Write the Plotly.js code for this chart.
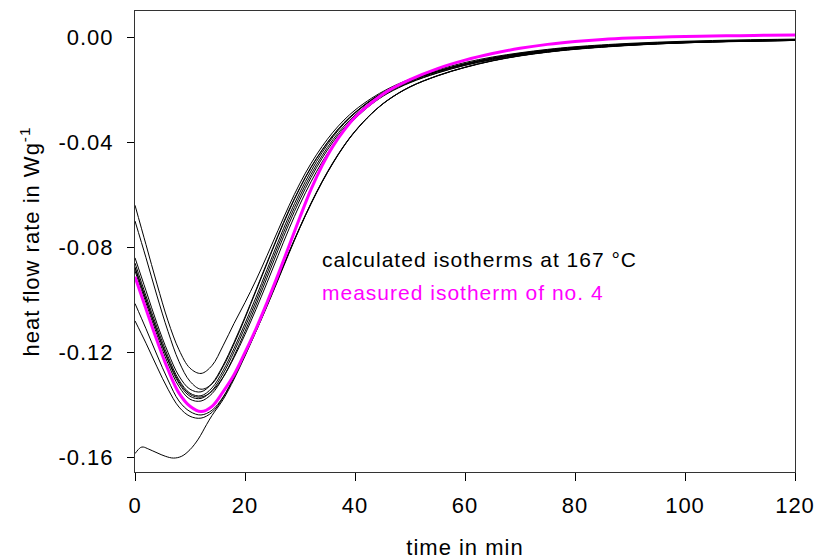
<!DOCTYPE html>
<html>
<head>
<meta charset="utf-8">
<script src="https://cdn.plot.ly/plotly-3.0.1.min.js"></script>
<style>
html,body{margin:0;padding:0;background:#fff;}
#chart text{letter-spacing:1px;}
</style>
</head>
<body>
<div id="chart" style="width:817px;height:560px;"></div>
<script>
// time grid (min)
const timeMin = [0,2,4,6,8,10,12,14,16,18,20,22,24,26,28,30,32,34,36,38,40,43,46,50,55,60,65,70,75,80,90,100,110,120];
const timeOdd = [0,1,1.5,2.5,4,5.5,7,8.5,10,11.5,13,14,16,18,20,22,24,26,28,30,32,34,36,38,40,43,46,50,55,60,65,70,75,80,90,100,110,120];
const timeMeas = [0,2,4,6,8,10,12,14,16,18,20,22,24,26,28,30,32,34,36,38,40,43,46,50,55,60,65,70,75,80,85,90,95,100,105,110,115,120];

// calculated isotherms at 167 °C (W/g)
const calc1 = [-0.0640,-0.0790,-0.0940,-0.1080,-0.1190,-0.1260,-0.1280,-0.1250,-0.1175,-0.1090,-0.1010,-0.0925,-0.0832,-0.0736,-0.0642,-0.0556,-0.0481,-0.0417,-0.0362,-0.0316,-0.0278,-0.0233,-0.0197,-0.0160,-0.0125,-0.0097,-0.0076,-0.0060,-0.0047,-0.0037,-0.0024,-0.0016,-0.0011,-0.0008];
const calc2 = [-0.0700,-0.0840,-0.0985,-0.1120,-0.1235,-0.1310,-0.1340,-0.1320,-0.1255,-0.1168,-0.1070,-0.0966,-0.0862,-0.0759,-0.0662,-0.0574,-0.0497,-0.0431,-0.0374,-0.0326,-0.0287,-0.0238,-0.0201,-0.0164,-0.0129,-0.0101,-0.0079,-0.0062,-0.0049,-0.0039,-0.0026,-0.0018,-0.0013,-0.0010];
const calc3 = [-0.0840,-0.0965,-0.1090,-0.1200,-0.1290,-0.1340,-0.1350,-0.1318,-0.1250,-0.1162,-0.1065,-0.0962,-0.0858,-0.0755,-0.0658,-0.0572,-0.0495,-0.0430,-0.0374,-0.0327,-0.0288,-0.0240,-0.0203,-0.0166,-0.0131,-0.0103,-0.0081,-0.0064,-0.0051,-0.0041,-0.0028,-0.0020,-0.0015,-0.0012];
const calc4 = [-0.0860,-0.0985,-0.1105,-0.1215,-0.1305,-0.1355,-0.1365,-0.1335,-0.1270,-0.1185,-0.1090,-0.0990,-0.0885,-0.0780,-0.0680,-0.0590,-0.0510,-0.0440,-0.0380,-0.0330,-0.0290,-0.0240,-0.0202,-0.0165,-0.0130,-0.0102,-0.0080,-0.0063,-0.0050,-0.0040,-0.0027,-0.0019,-0.0014,-0.0011];
const calc5 = [-0.0875,-0.0998,-0.1120,-0.1230,-0.1318,-0.1367,-0.1375,-0.1345,-0.1282,-0.1198,-0.1104,-0.1005,-0.0900,-0.0795,-0.0695,-0.0604,-0.0523,-0.0452,-0.0390,-0.0339,-0.0297,-0.0246,-0.0207,-0.0169,-0.0133,-0.0105,-0.0083,-0.0066,-0.0052,-0.0042,-0.0029,-0.0020,-0.0015,-0.0012];
const calc6 = [-0.0890,-0.1012,-0.1133,-0.1243,-0.1330,-0.1378,-0.1385,-0.1357,-0.1296,-0.1214,-0.1120,-0.1020,-0.0916,-0.0811,-0.0710,-0.0618,-0.0535,-0.0462,-0.0399,-0.0346,-0.0303,-0.0251,-0.0211,-0.0172,-0.0136,-0.0107,-0.0085,-0.0067,-0.0054,-0.0043,-0.0030,-0.0021,-0.0016,-0.0013];
const calc7 = [-0.0880,-0.1000,-0.1118,-0.1226,-0.1312,-0.1360,-0.1370,-0.1348,-0.1295,-0.1220,-0.1132,-0.1036,-0.0935,-0.0832,-0.0730,-0.0636,-0.0551,-0.0476,-0.0411,-0.0356,-0.0311,-0.0256,-0.0214,-0.0174,-0.0137,-0.0108,-0.0086,-0.0068,-0.0055,-0.0044,-0.0030,-0.0021,-0.0016,-0.0013];
const calc8 = [-0.1014,-0.1110,-0.1210,-0.1305,-0.1385,-0.1425,-0.1438,-0.1420,-0.1370,-0.1295,-0.1210,-0.1120,-0.1025,-0.0925,-0.0823,-0.0725,-0.0635,-0.0553,-0.0480,-0.0415,-0.0360,-0.0292,-0.0240,-0.0190,-0.0147,-0.0115,-0.0090,-0.0071,-0.0057,-0.0046,-0.0031,-0.0022,-0.0016,-0.0013];
const calc9 = [-0.1080,-0.1165,-0.1255,-0.1340,-0.1408,-0.1443,-0.1450,-0.1428,-0.1373,-0.1295,-0.1207,-0.1115,-0.1018,-0.0918,-0.0818,-0.0722,-0.0632,-0.0550,-0.0477,-0.0413,-0.0358,-0.0291,-0.0239,-0.0189,-0.0147,-0.0115,-0.0090,-0.0071,-0.0057,-0.0046,-0.0031,-0.0022,-0.0016,-0.0013];
const calcOdd = [-0.1585,-0.1562,-0.1560,-0.1568,-0.1582,-0.1595,-0.1602,-0.1595,-0.1570,-0.1530,-0.1475,-0.1440,-0.1380,-0.1302,-0.1214,-0.1120,-0.1022,-0.0921,-0.0820,-0.0724,-0.0634,-0.0552,-0.0479,-0.0414,-0.0359,-0.0292,-0.0240,-0.0190,-0.0148,-0.0116,-0.0091,-0.0072,-0.0058,-0.0047,-0.0032,-0.0022,-0.0017,-0.0013];

// measured isotherm of no. 4 (W/g)
const measured4 = [-0.0912,-0.1035,-0.1155,-0.1265,-0.1355,-0.1405,-0.1425,-0.1405,-0.1350,-0.1285,-0.1200,-0.1110,-0.1010,-0.0905,-0.0795,-0.0685,-0.0580,-0.0490,-0.0415,-0.0355,-0.0305,-0.0250,-0.0205,-0.0162,-0.0120,-0.0088,-0.0063,-0.0043,-0.0028,-0.0017,-0.0009,-0.0004,-0.0001,0.0002,0.0004,0.0005,0.0007,0.0008];

const xTickVals = [0,20,40,60,80,100,120];
const xTickLabels = ["0","20","40","60","80","100","120"];
const yTickVals = [-0.16,-0.12,-0.08,-0.04,0.00];
const yTickLabels = ["-0.16","-0.12","-0.08","-0.04","0.00"];

const calcSeries = [calc1,calc2,calc3,calc4,calc5,calc6,calc7,calc8,calc9];
const traces = calcSeries.map(v => ({
  x: timeMin, y: v, type: 'scatter', mode: 'lines',
  line: {color: '#000000', width: 1, shape: 'spline', smoothing: 1},
  hoverinfo: 'skip'
}));
traces.push({
  x: timeOdd, y: calcOdd, type: 'scatter', mode: 'lines',
  line: {color: '#000000', width: 1, shape: 'spline', smoothing: 1},
  hoverinfo: 'skip'
});
traces.push({
  x: timeMeas, y: measured4, type: 'scatter', mode: 'lines',
  line: {color: '#ff00ff', width: 3, shape: 'spline', smoothing: 1},
  hoverinfo: 'skip'
});

const font = {family: '"Liberation Sans", Arial, sans-serif', color: '#000000'};

const layout = {
  width: 817, height: 560,
  margin: {l: 135, r: 22, t: 11, b: 88},
  paper_bgcolor: '#ffffff', plot_bgcolor: '#ffffff',
  showlegend: false,
  font: Object.assign({size: 21}, font),
  xaxis: {
    range: [0, 120],
    tickvals: xTickVals, ticktext: xTickLabels,
    ticks: 'outside', ticklen: 8, tickwidth: 1, tickcolor: '#000',
    ticklabelstandoff: 6,
    showline: true, linecolor: '#333', linewidth: 1, mirror: true,
    showgrid: false, zeroline: false,
    tickfont: Object.assign({size: 22}, font),
    title: {text: 'time in min', font: Object.assign({size: 22}, font), standoff: 26}
  },
  yaxis: {
    range: [-0.1655, 0.0099],
    tickvals: yTickVals, ticktext: yTickLabels,
    ticks: 'outside', ticklen: 7, tickwidth: 1, tickcolor: '#000',
    ticklabelstandoff: 9,
    showline: true, linecolor: '#333', linewidth: 1, mirror: true,
    showgrid: false, zeroline: false,
    tickfont: Object.assign({size: 22}, font),
    title: {text: 'heat flow rate in Wg<sup>-1</sup>', font: Object.assign({size: 22}, font), standoff: 17}
  },
  annotations: [
    {xref: 'paper', yref: 'paper', x: 0.303, y: 0.46, xanchor: 'left', yanchor: 'middle',
     text: 'calculated isotherms at 167 °C', showarrow: false, font: Object.assign({size: 21}, font, {color: '#000000'})},
    {xref: 'paper', yref: 'paper', x: 0.30, y: 0.39, xanchor: 'left', yanchor: 'middle',
     text: 'measured isotherm of no. 4', showarrow: false, font: Object.assign({size: 21}, font, {color: '#ff00ff'})}
  ]
};

Plotly.newPlot('chart', traces, layout, {staticPlot: true, displayModeBar: false});
</script>
</body>
</html>
